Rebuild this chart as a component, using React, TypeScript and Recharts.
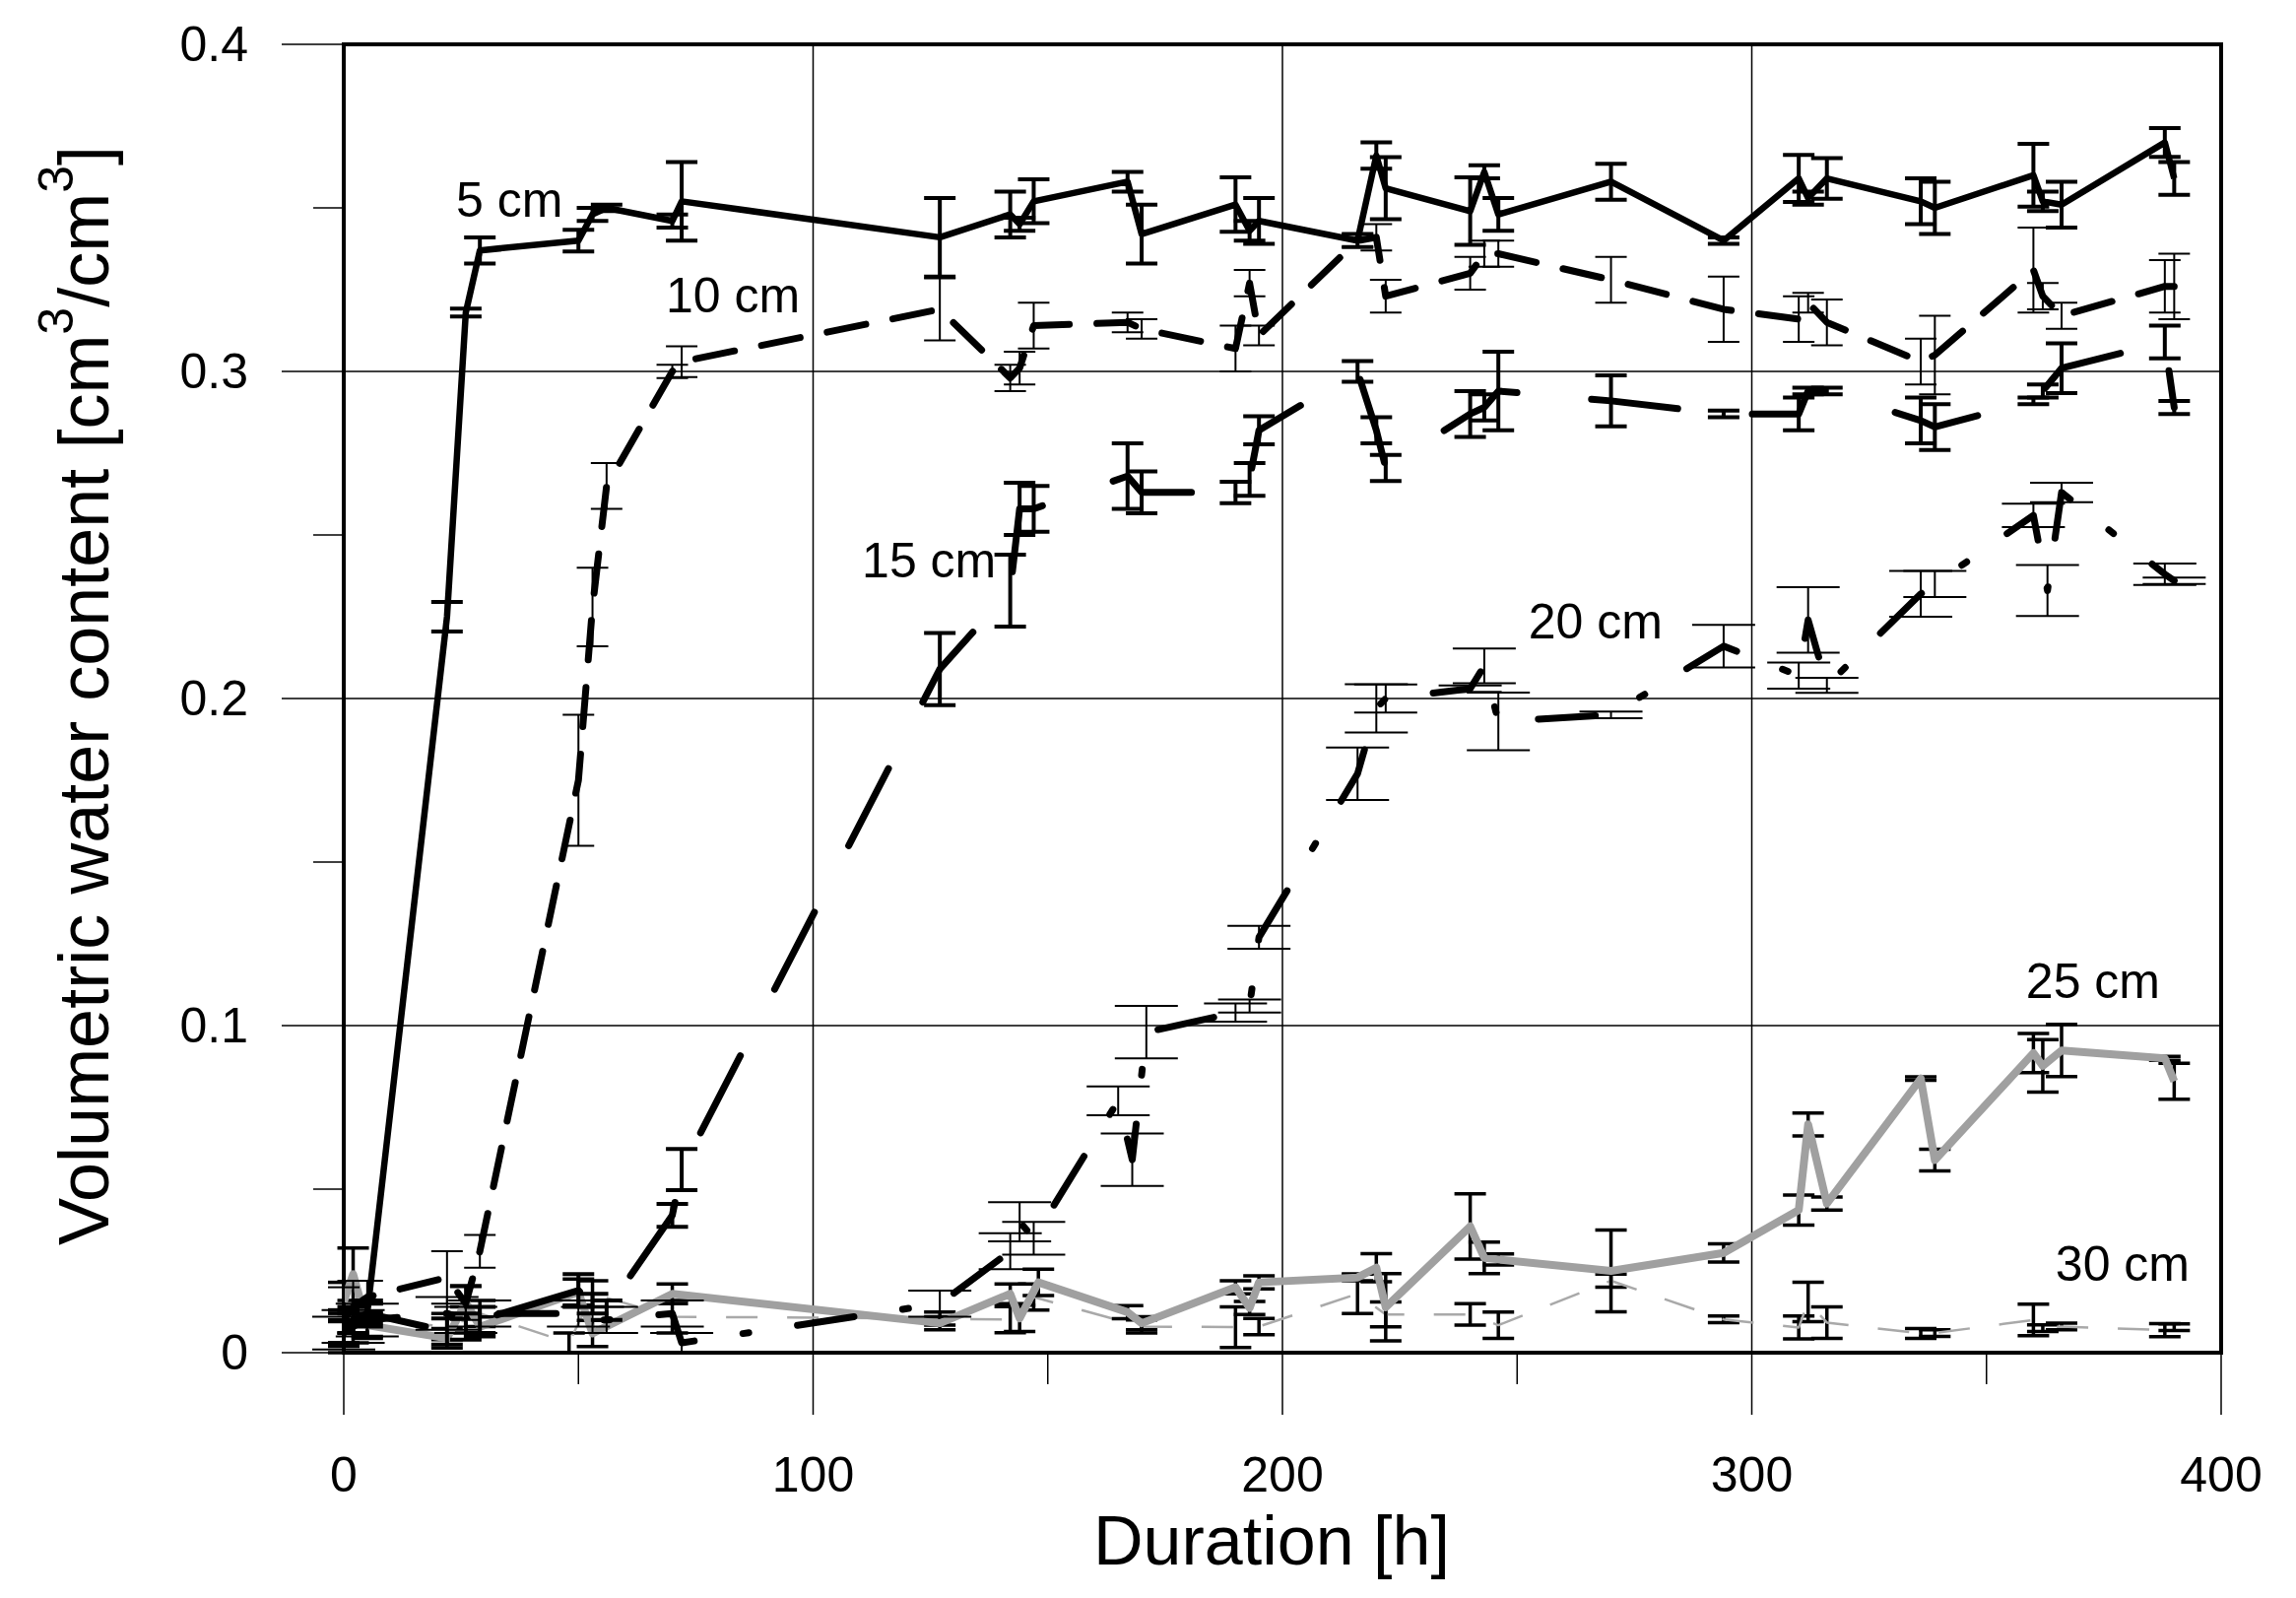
import React from 'react';
import {
  LineChart, Line, XAxis, YAxis, ErrorBar, ReferenceLine, ReferenceArea, ReferenceDot,
} from 'recharts';

const FONT = '"Liberation Sans", Arial, sans-serif';

// measurement times [h] for the 5, 10 and 15 cm probes
const hoursA = [0, 2, 5, 22, 26, 29, 50, 53, 56, 70, 72, 127, 142, 144, 147, 167, 170, 190, 193, 195, 216, 220, 222, 240, 243, 246, 270, 294, 310, 312, 316, 336, 339, 360, 362, 366, 388, 390];

const vol5 = [0.006, 0.009, 0.012, 0.225, 0.318, 0.337, 0.340, 0.348, 0.350, 0.346, 0.352, 0.341, 0.348, 0.345, 0.352, 0.358, 0.342, 0.351, 0.343, 0.346, 0.340, 0.366, 0.356, 0.349, 0.361, 0.348, 0.358, 0.340, 0.359, 0.353, 0.359, 0.352, 0.350, 0.360, 0.352, 0.351, 0.370, 0.359];
const sd5 = [0.004, 0.003, 0.003, 0.0045, 0.0012, 0.004, 0.0033, 0.002, 0.001, 0.002, 0.012, 0.012, 0.007, 0.002, 0.0067, 0.003, 0.009, 0.0083, 0.003, 0.007, 0.002, 0.004, 0.0095, 0.0103, 0.002, 0.005, 0.0055, 0.001, 0.0072, 0.002, 0.0062, 0.007, 0.008, 0.0096, 0.003, 0.007, 0.0044, 0.005];

const vol10 = [0.010, 0.014, 0.017, 0.023, 0.015, 0.031, 0.175, 0.228, 0.265, 0.300, 0.303, 0.319, 0.298, 0.301, 0.314, 0.315, 0.313, 0.307, 0.327, 0.311, 0.340, 0.341, 0.323, 0.330, 0.336, 0.336, 0.328, 0.319, 0.316, 0.321, 0.315, 0.303, 0.305, 0.331, 0.323, 0.317, 0.326, 0.326];
const sd10 = [0.01, 0.008, 0.005, 0.008, 0.005, 0.005, 0.02, 0.012, 0.007, 0.002, 0.0047, 0.0095, 0.004, 0.005, 0.007, 0.003, 0.003, 0.007, 0.004, 0.003, 0.002, 0.004, 0.005, 0.005, 0.004, 0.004, 0.007, 0.010, 0.007, 0.003, 0.007, 0.007, 0.012, 0.013, 0.004, 0.004, 0.008, 0.01];

const vol15 = [0.008, 0.010, 0.012, 0.0065, 0.008, 0.010, 0.019, 0.015, 0.013, 0.042, 0.056, 0.209, 0.233, 0.258, 0.258, 0.268, 0.263, 0.263, 0.267, 0.282, 0.300, 0.282, 0.2705, 0.287, 0.289, 0.294, 0.291, 0.287, 0.287, 0.294, 0.294, 0.285, 0.283, 0.291, 0.294, 0.301, 0.309, 0.289];
const sd15 = [0.005, 0.004, 0.004, 0.004, 0.004, 0.004, 0.005, 0.003, 0.003, 0.0035, 0.0063, 0.011, 0.011, 0.008, 0.007, 0.010, 0.0064, 0.0033, 0.005, 0.0043, 0.0032, 0.004, 0.004, 0.007, 0.004, 0.012, 0.0078, 0.001, 0.005, 0.001, 0.001, 0.007, 0.007, 0.001, 0.002, 0.0076, 0.005, 0.002];

const hours20 = [0, 2, 5, 22, 26, 29, 50, 53, 56, 70, 72, 127, 142, 144, 147, 165, 168, 171, 190, 193, 195, 216, 220, 222, 240, 243, 246, 270, 294, 310, 312, 316, 336, 339, 360, 363, 366, 388, 390];
const vol20 = [0.006, 0.008, 0.010, 0.012, 0.010, 0.012, 0.012, 0.010, 0.010, 0.012, 0.003, 0.015, 0.031, 0.040, 0.035, 0.077, 0.059, 0.098, 0.104, 0.106, 0.127, 0.177, 0.197, 0.200, 0.203, 0.210, 0.193, 0.195, 0.216, 0.207, 0.224, 0.204, 0.232, 0.235, 0.256, 0.233, 0.263, 0.238, 0.236];
const sd20 = [0.005, 0.005, 0.005, 0.005, 0.004, 0.004, 0.004, 0.004, 0.004, 0.004, 0.003, 0.004, 0.0055, 0.006, 0.005, 0.0044, 0.008, 0.008, 0.0028, 0.002, 0.0035, 0.008, 0.0074, 0.0043, 0.001, 0.0053, 0.0088, 0.001, 0.0065, 0.004, 0.01, 0.0023, 0.007, 0.004, 0.0036, 0.0078, 0.003, 0.0033, 0.001];

const hours25 = [0, 2, 5, 22, 26, 29, 50, 53, 70, 127, 142, 144, 148, 167, 170, 190, 193, 195, 216, 220, 222, 240, 243, 246, 270, 294, 310, 312, 316, 336, 339, 360, 362, 366, 388, 390];
const vol25 = [0.0155, 0.024, 0.0084, 0.0044, 0.0155, 0.0079, 0.0185, 0.0059, 0.018, 0.009, 0.018, 0.0105, 0.0215, 0.0124, 0.009, 0.020, 0.0137, 0.0215, 0.023, 0.026, 0.0139, 0.0386, 0.029, 0.0285, 0.025, 0.0305, 0.0436, 0.0698, 0.0456, 0.0838, 0.0589, 0.0916, 0.0877, 0.0924, 0.090, 0.083];
const sd25 = [0.006, 0.008, 0.004, 0.003, 0.005, 0.003, 0.004, 0.004, 0.003, 0.002, 0.003, 0.004, 0.004, 0.002, 0.002, 0.002, 0.002, 0.002, 0.001, 0.0043, 0.0103, 0.010, 0.0048, 0.0017, 0.0125, 0.0028, 0.0046, 0.0035, 0.002, 0.0005, 0.0033, 0.006, 0.008, 0.008, 0.0006, 0.0055];

const hours30 = [0, 2, 5, 22, 26, 29, 48, 53, 70, 127, 142, 147, 170, 190, 195, 216, 222, 240, 246, 270, 294, 310, 312, 316, 336, 339, 360, 362, 366, 388, 390];
const vol30 = [0.006, 0.008, 0.010, 0.008, 0.010, 0.012, 0.003, 0.018, 0.011, 0.0104, 0.0101, 0.017, 0.008, 0.0078, 0.008, 0.018, 0.0117, 0.0117, 0.0084, 0.022, 0.0102, 0.0077, 0.0155, 0.0092, 0.0059, 0.006, 0.010, 0.0075, 0.008, 0.0069, 0.0078];
const sd30 = [0.006, 0.005, 0.005, 0.004, 0.004, 0.004, 0.003, 0.004, 0.005, 0.002, 0.004, 0.004, 0.002, 0.0062, 0.0025, 0.006, 0.0038, 0.0033, 0.004, 0.002, 0.001, 0.0035, 0.006, 0.0048, 0.0015, 0.001, 0.0048, 0.001, 0.001, 0.002, 0.001];

const xTicks = [0, 50, 100, 150, 200, 250, 300, 350, 400];
const yTicks = [0, 0.05, 0.1, 0.15, 0.2, 0.25, 0.3, 0.35, 0.4];
const gridX = [100, 200, 300];
const gridY = [0.1, 0.2, 0.3];

// depth labels, anchored in data units
const depthLabels = [
  { text: '5 cm', h: 35.3, v: 0.3524 },
  { text: '10 cm', h: 82.9, v: 0.3232 },
  { text: '15 cm', h: 124.7, v: 0.2422 },
  { text: '20 cm', h: 266.7, v: 0.2235 },
  { text: '25 cm', h: 372.7, v: 0.1136 },
  { text: '30 cm', h: 379.0, v: 0.0271 },
];

const toRows = (hours: number[], vol: number[], sd: number[]) =>
  hours.map((h, i) => ({ h, v: vol[i], sd: sd[i] }));

const series = [
  { key: '30', rows: toRows(hours30, vol30, sd30), stroke: '#a9a9a9', width: 2.5, dash: '32 30', cap: 'butt', barW: 3.5, barCap: 16 },
  { key: '25', rows: toRows(hours25, vol25, sd25), stroke: '#a0a0a0', width: 8, dash: undefined, cap: 'butt', barW: 3.5, barCap: 16 },
  { key: '20', rows: toRows(hours20, vol20, sd20), stroke: '#000', width: 7, dash: '58 50 6 50', cap: 'round', barW: 2, barCap: 32 },
  { key: '15', rows: toRows(hoursA, vol15, sd15), stroke: '#000', width: 7, dash: '88 76', cap: 'round', barW: 4, barCap: 16 },
  { key: '10', rows: toRows(hoursA, vol10, sd10), stroke: '#000', width: 7, dash: '40 28', cap: 'round', barW: 2, barCap: 16 },
  { key: '5', rows: toRows(hoursA, vol5, sd5), stroke: '#000', width: 6.5, dash: undefined, cap: 'butt', barW: 4, barCap: 16 },
];

function XTick(props: any) {
  const { x, y, payload } = props;
  const major = payload.value % 100 === 0;
  return (
    <g>
      <line x1={x} x2={x} y1={y} y2={y + (major ? 63 : 32)} stroke="#000" strokeWidth={1.5} />
      {major && (
        <text x={x} y={y + 141} textAnchor="middle" fontSize={50} fontFamily={FONT} fill="#000">
          {payload.value}
        </text>
      )}
    </g>
  );
}

function YTick(props: any) {
  const { x, y, payload } = props;
  const major = Math.round(payload.value * 100) % 10 === 0;
  return (
    <g>
      <line x1={x - (major ? 63 : 31)} x2={x} y1={y} y2={y} stroke="#000" strokeWidth={1.5} />
      {major && (
        <text x={x - 97} y={y} textAnchor="end" dominantBaseline="central" fontSize={50} fontFamily={FONT} fill="#000">
          {payload.value}
        </text>
      )}
    </g>
  );
}

function YTitle(props: any) {
  const vb = props.viewBox || { x: 0, y: 37, width: 341, height: 1328 };
  const x = vb.x + 102;
  const y = vb.y + vb.height / 2 - 3;
  return (
    <text
      x={x} y={y} transform={`rotate(-90 ${x} ${y})`} textAnchor="middle"
      fontSize={72} fontFamily={FONT} fill="#000"
    >
      Volumetric water content [cm<tspan dy={-36} fontSize={50}>3</tspan>
      <tspan dy={36}>/cm</tspan><tspan dy={-36} fontSize={50}>3</tspan><tspan dy={36}>]</tspan>
    </text>
  );
}

function XTitle(props: any) {
  const vb = props.viewBox || { x: 341, y: 1365, width: 1906, height: 220 };
  return (
    <text x={vb.x + vb.width / 2 - 11} y={vb.y + 215} textAnchor="middle" fontSize={70} fontFamily={FONT} fill="#000">
      Duration [h]
    </text>
  );
}

export default function App() {
  return (
    <LineChart width={2315} height={1606} margin={{ top: 37, right: 68, bottom: 21, left: 0 }}>
      <XAxis
        dataKey="h" type="number" domain={[0, 400]} ticks={xTicks} interval={0} allowDataOverflow
        tickSize={0} tickMargin={0} axisLine={false} tickLine={false} tick={XTick} height={220}
        label={{ content: XTitle }}
      />
      <YAxis
        type="number" domain={[0, 0.4]} ticks={yTicks} interval={0} allowDataOverflow
        tickSize={0} tickMargin={0} axisLine={false} tickLine={false} tick={YTick} width={341}
        label={{ content: YTitle }}
      />
      {gridY.map((v) => (
        <ReferenceLine key={`gy${v}`} y={v} stroke="#000" strokeWidth={1.5} />
      ))}
      {gridX.map((h) => (
        <ReferenceLine key={`gx${h}`} x={h} stroke="#000" strokeWidth={1.5} />
      ))}
      {series.map((s) => (
        <Line
          key={s.key} data={s.rows} dataKey="v" type="linear" stroke={s.stroke} strokeWidth={s.width}
          strokeDasharray={s.dash} strokeLinecap={s.cap as any} strokeLinejoin="round"
          dot={false} activeDot={false} isAnimationActive={false}
        >
          <ErrorBar dataKey="sd" direction="y" width={s.barCap} stroke="#000" strokeWidth={s.barW} isAnimationActive={false} />
        </Line>
      ))}
      <ReferenceArea x1={0} x2={400} y1={0} y2={0.4} fill="none" stroke="#000" strokeWidth={4} />
      {depthLabels.map((l) => (
        <ReferenceDot
          key={l.text} x={l.h} y={l.v} r={1}
          shape={(p: any) => (
            <text x={p.cx} y={p.cy} textAnchor="middle" dominantBaseline="central" fontSize={50} fontFamily={FONT} fill="#000">
              {l.text}
            </text>
          )}
        />
      ))}
    </LineChart>
  );
}
